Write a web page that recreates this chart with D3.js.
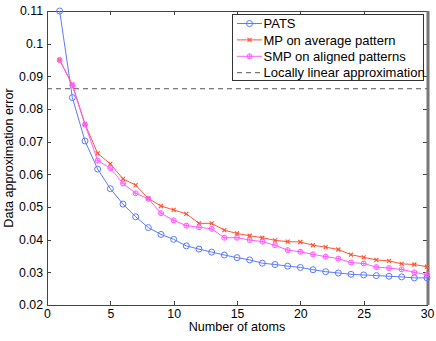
<!DOCTYPE html>
<html lang="en">
<head>
    <meta charset="UTF-8">
    <title>Data approximation error vs number of atoms</title>
    <script src="https://d3js.org/d3.v7.min.js"></script>
    <style>
        body { margin: 0; background: #fff; }
        svg { display: block; }
        text { font-family: "Liberation Sans", Arial, sans-serif; fill: #000; }
        .axis path, .axis line { fill: none; stroke: #444; shape-rendering: crispEdges; }
        .axis text { font-size: 12.3px; }
    </style>
</head>
<body>
    <svg width="436" height="341"></svg>

    <script>
        // Data
        var atoms = d3.range(1, 31);
        var pats = [0.110, 0.0835, 0.0702, 0.0616, 0.0556, 0.0509, 0.0470, 0.0437, 0.0416, 0.0401,
                    0.0381, 0.0371, 0.0362, 0.0353, 0.0345, 0.0338, 0.0328, 0.0324, 0.0319, 0.0315,
                    0.0308, 0.0302, 0.0298, 0.0294, 0.0292, 0.0290, 0.0288, 0.0286, 0.0283, 0.0283];
        var mpAvg = [0.0950, 0.0875, 0.0754, 0.0664, 0.0632, 0.0586, 0.0567, 0.0526, 0.0503, 0.0491,
                     0.0479, 0.0450, 0.0450, 0.0429, 0.0419, 0.0412, 0.0406, 0.0398, 0.0394, 0.0393,
                     0.0383, 0.0377, 0.0370, 0.0354, 0.0346, 0.0338, 0.0335, 0.0326, 0.0324, 0.0317];
        var smpAligned = [0.0950, 0.0872, 0.0752, 0.0642, 0.0619, 0.0572, 0.0542, 0.0525, 0.0481, 0.0459,
                          0.0443, 0.0438, 0.0433, 0.0406, 0.0406, 0.0399, 0.0394, 0.0383, 0.0368, 0.0363,
                          0.0355, 0.0348, 0.0342, 0.0330, 0.0327, 0.0316, 0.0313, 0.0309, 0.0300, 0.0293];
        var linearApprox = 0.0862;
        var xTicks = [0, 5, 10, 15, 20, 25, 30];
        var yTicks = [0.02, 0.03, 0.04, 0.05, 0.06, 0.07, 0.08, 0.09, 0.1, 0.11];
        var legendLabels = ["PATS", "MP on average pattern", "SMP on aligned patterns", "Locally linear approximation"];

        var blue = "#5b7bff", red = "#ff5533", pink = "#ff5cff", gray = "#555";

        var svg = d3.select("svg"),
            margin = {top: 11, right: 9, bottom: 36, left: 47},
            width = +svg.attr("width") - margin.left - margin.right,
            height = +svg.attr("height") - margin.top - margin.bottom,
            g = svg.append("g").attr("transform", "translate(" + margin.left + "," + margin.top + ")");

        var x = d3.scaleLinear().domain([0, 30]).range([0, width]);
        var y = d3.scaleLinear().domain([0.02, 0.11]).range([height, 0]);

        // Axes, MATLAB style: ticks inward on all four sides
        g.append("g").attr("class", "axis")
            .attr("transform", "translate(0," + height + ")")
            .call(d3.axisBottom(x).tickValues(xTicks).tickSize(-4).tickPadding(4).tickFormat(d3.format("d")));
        g.append("g").attr("class", "axis")
            .call(d3.axisTop(x).tickValues(xTicks).tickSize(-4).tickFormat(""));
        g.append("g").attr("class", "axis")
            .call(d3.axisLeft(y).tickValues(yTicks).tickSize(-4).tickPadding(4).tickFormat(function(d) { return +d.toFixed(2); }));
        g.append("g").attr("class", "axis")
            .attr("transform", "translate(" + width + ",0)")
            .call(d3.axisRight(y).tickValues(yTicks).tickSize(-4).tickFormat(""));
        g.selectAll(".axis path").attr("d", null);

        g.append("rect")
            .attr("width", width).attr("height", height)
            .attr("fill", "none").attr("stroke", "#444").attr("stroke-width", 1)
            .attr("shape-rendering", "crispEdges");
        g.append("line")
            .attr("x1", width + 1).attr("x2", width + 1).attr("y1", 0).attr("y2", height)
            .attr("stroke", "#777").attr("stroke-width", 3);

        // Axis labels
        svg.append("text")
            .attr("x", margin.left + width / 2).attr("y", 331)
            .attr("text-anchor", "middle").attr("font-size", 12.6)
            .text("Number of atoms");
        svg.append("text")
            .attr("transform", "translate(13," + (margin.top + height / 2) + ") rotate(-90)")
            .attr("text-anchor", "middle").attr("font-size", 12.6)
            .text("Data approximation error");

        // Dashed reference line
        g.append("line")
            .attr("x1", x(0)).attr("x2", x(30))
            .attr("y1", y(linearApprox)).attr("y2", y(linearApprox))
            .attr("stroke", gray).attr("stroke-dasharray", "5,4");

        var line = d3.line()
            .x(function(d, i) { return x(atoms[i]); })
            .y(function(d) { return y(d); });

        function drawSeries(vals, color, marker) {
            g.append("path").datum(vals)
                .attr("d", line).attr("fill", "none")
                .attr("stroke", color).attr("stroke-width", 1);
            var m = g.append("g").selectAll("g").data(vals).enter().append("g")
                .attr("transform", function(d, i) { return "translate(" + x(atoms[i]) + "," + y(d) + ")"; });
            marker(m, color);
        }

        function circleMarker(sel, color) {
            sel.append("circle").attr("r", 3).attr("fill", "none").attr("stroke", color);
        }
        function xMarker(sel, color) {
            sel.append("path").attr("d", "M-2,-2L2,2M-2,2L2,-2").attr("stroke", color).attr("stroke-width", 1.2);
        }
        function starMarker(sel, color) {
            sel.append("circle").attr("r", 2.5).attr("fill", "none").attr("stroke", color);
            sel.append("path").attr("d", "M-2.5,0L2.5,0M0,-2.5L0,2.5").attr("stroke", color).attr("stroke-width", 0.8);
        }

        drawSeries(pats, blue, circleMarker);
        drawSeries(mpAvg, red, xMarker);
        drawSeries(smpAligned, pink, starMarker);

        // Legend
        var lg = svg.append("g").attr("transform", "translate(232,14)");
        lg.append("rect").attr("width", 191).attr("height", 66)
            .attr("fill", "#fff").attr("stroke", "#333").attr("shape-rendering", "crispEdges");
        var colors = [blue, red, pink, gray];
        var markers = [circleMarker, xMarker, starMarker, null];
        legendLabels.forEach(function(label, i) {
            var yy = 9.5 + i * 16.4;
            var row = lg.append("g").attr("transform", "translate(0," + yy + ")");
            row.append("line").attr("x1", 5).attr("x2", 30).attr("y1", 0).attr("y2", 0)
                .attr("stroke", colors[i]).attr("stroke-dasharray", i === 3 ? "5,4" : null);
            if (markers[i]) {
                var m = row.append("g").attr("transform", "translate(17.5,0)");
                markers[i](m, colors[i]);
            }
            row.append("text").attr("x", 31.5).attr("y", 4.6).attr("font-size", 13).text(label);
        });
    </script>
</body>
</html>
